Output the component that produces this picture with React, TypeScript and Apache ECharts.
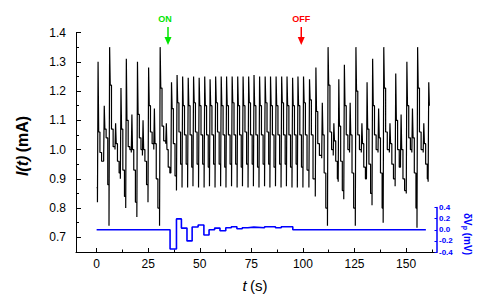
import React, { useEffect, useRef } from 'react';
import * as echarts from 'echarts';

// Axis ticks
const xTicks = [0, 25, 50, 75, 100, 125, 150];
const xMinorTicks = [12.5, 37.5, 62.5, 87.5, 112.5, 137.5, 162.5];
const yTicks = [0.7, 0.8, 0.9, 1.0, 1.1, 1.2, 1.3, 1.4];
const yMinorTicks = [0.75, 0.85, 0.95, 1.05, 1.15, 1.25, 1.35];
const rightTicks = [-0.4, -0.2, 0, 0.2, 0.4];

// Current I(t): one row per oscillation cycle
const startPoint = [0, 0.87];
const peakTimes = [
  0.7, 3.7, 6.3, 9.2, 11.8, 14.4, 17.1, 19.8, 22.5, 25.2, 28.0, 30.8, 33.8,
  36.3, 39.0, 41.7, 44.4, 47.0, 49.7, 52.4, 55.0, 57.7, 60.4, 63.0, 65.7, 68.4,
  71.0, 73.7, 76.3, 79.0, 81.7, 84.3, 87.0, 89.7, 92.3, 95.0, 97.6, 100.3,
  103.2, 106.3, 109.4, 112.2, 115.0, 117.4, 120.1, 122.9, 125.7, 128.6, 131.1,
  133.8, 136.7, 139.2, 142.2, 145.0, 147.6, 150.4, 153.1, 155.6, 158.6, 161.0,
];
const troughValues = [
  0.82, 0.97, 0.74, 1.0, 0.9, 0.8, 0.99, 0.77, 0.98, 0.82, 1.0, 0.74, 1.02,
  0.92, 0.86, 0.87, 0.87, 0.875, 0.87, 0.87, 0.875, 0.87, 0.875, 0.87, 0.875, 0.87,
  0.875, 0.87, 0.875, 0.87, 0.875, 0.87, 0.875, 0.87, 0.875, 0.87, 0.87, 0.87,
  0.87, 0.84, 0.97, 0.74, 0.98, 0.89, 0.83, 0.99, 0.74, 0.99, 0.9,
  0.81, 0.99, 0.75, 0.99, 0.875, 0.96, 0.85, 0.99, 0.733, 0.99, 0.89,
];
const peakValues = [
  1.3, 1.15, 1.35, 1.09, 1.21, 1.31, 1.12, 1.3, 1.1, 1.28, 1.14, 1.35, 1.09,
  1.23, 1.255, 1.25, 1.245, 1.25, 1.245, 1.25, 1.24, 1.25, 1.25, 1.25, 1.25, 1.25,
  1.25, 1.25, 1.255, 1.25, 1.25, 1.25, 1.25, 1.25, 1.25, 1.245, 1.25, 1.25,
  1.24, 1.28, 1.16, 1.35, 1.09, 1.24, 1.29, 1.16, 1.35, 1.09, 1.23,
  1.31, 1.14, 1.35, 1.09, 1.26, 1.12, 1.3, 1.14, 1.35, 1.09, 1.23,
];
const shoulderValues = [
  1.06, 1.07, 1.22, 1.02, 1.07, 1.1, 1.0, 1.12, 1.0, 1.15, 1.02, 1.21, 1.0,
  1.14, 1.16, 1.15, 1.15, 1.16, 1.15, 1.15, 1.15, 1.16, 1.15, 1.15, 1.16, 1.15,
  1.15, 1.16, 1.15, 1.15, 1.16, 1.15, 1.15, 1.16, 1.15, 1.15, 1.15, 1.16,
  1.17, 1.13, 1.05, 1.22, 1.03, 1.08, 1.15, 1.05, 1.2, 1.02, 1.07,
  1.15, 1.04, 1.21, 1.02, 1.1, 1.0, 1.15, 1.04, 1.21, 1.02, 1.15,
];
const midValues = [
  0.99, 1.04, 1.07, 0.96, 0.93, 1.01, 0.93, 1.04, 0.96, 1.06, 0.9, 1.08, 0.94,
  1.02, 1.06, 1.05, 1.05, 1.06, 1.05, 1.05, 1.05, 1.06, 1.05, 1.05, 1.05, 1.05,
  1.06, 1.05, 1.05, 1.05, 1.06, 1.05, 1.05, 1.05, 1.05, 1.05, 1.05, 1.05,
  1.05, 1.02, 0.92, 1.06, 0.96, 0.96, 1.05, 0.92, 1.05, 0.94, 0.95,
  1.05, 0.92, 1.06, 0.95, 1.0, 0.9, 1.04, 0.92, 1.06, 0.95, null,
];
const lateValues = [
  0.96, 0.88, 1.01, 0.92, 0.84, 1.0, 0.82, 1.0, 0.88, 1.02, 0.8, 1.03, 0.92,
  0.91, 0.95, 0.95, 0.94, 0.95, 0.95, 0.94, 0.95, 0.95, 0.94, 0.95, 0.95, 0.94,
  0.95, 0.95, 0.94, 0.95, 0.95, 0.94, 0.95, 0.95, 0.94, 0.95, 0.94, 0.93,
  0.9, 0.98, 0.8, 1.0, 0.9, 0.86, 1.0, 0.8, 1.0, 0.9, 0.85,
  1.0, 0.8, 1.0, 0.9, 0.94, 0.86, 1.0, 0.8, 1.0, 0.9, null,
];

// Control perturbation δVp (mV), held from each time to the next
const controlTimes = [0, 35.6, 38.7, 41.1, 43.8, 46.3, 49.2, 52.0, 54.5, 57.2, 59.8, 62.6, 65.3, 68.0, 70.6, 73.3, 76.2, 81.4, 86.7, 89.5, 95.1, 159.6];
const controlValues = [0, -0.345, 0.195, 0.03, -0.2, 0.05, 0.085, -0.095, 0.0, 0.03, -0.018, 0.036, 0.055, 0.018, 0.036, 0.048, 0.036, 0.055, 0.036, 0.055, 0, 0];

const ON_TIME = 34.6;
const OFF_TIME = 99.2;

const FONT = "'Liberation Sans', Arial, sans-serif";

function buildCurrent(): number[][] {
  const pts: number[][] = [startPoint];
  peakTimes.forEach((tp, i) => {
    pts.push([tp - 0.3, troughValues[i]]);
    pts.push([tp, peakValues[i]]);
    pts.push([tp + 0.3, shoulderValues[i]]);
    if (midValues[i] != null) pts.push([tp + 0.9, midValues[i] as number]);
    if (lateValues[i] != null) pts.push([tp + 1.7, lateValues[i] as number]);
  });
  return pts;
}

export default function App() {
  const ref = useRef<HTMLDivElement>(null);
  useEffect(() => {
    if (!ref.current) return;
    const chart = echarts.init(ref.current, undefined, { renderer: 'svg' });
    const currentData = buildCurrent();
    const controlData = controlTimes.map((t, i) => [t, controlValues[i]]);
    const fmt = (v: number) => (Math.abs(v) < 1e-9 ? '0.0' : v.toFixed(1));

    chart.setOption({
      animation: false,
      grid: [
        { left: 76, right: 61, top: 32.5, bottom: 52 },
        { left: 76, right: 61, top: 207.5, bottom: 52 },
      ],
      xAxis: [
        {
          type: 'value', gridIndex: 0, min: -10, max: 165, position: 'bottom',
          axisLine: { show: true, onZero: false, lineStyle: { color: '#000', width: 1 } },
          axisTick: { show: true, inside: true, length: 4, customValues: xTicks, lineStyle: { color: '#000' } },
          axisLabel: { customValues: xTicks, color: '#000', fontSize: 12, margin: 6, fontFamily: FONT },
          splitLine: { show: false },
        },
        {
          type: 'value', gridIndex: 0, min: -10, max: 165, position: 'bottom',
          axisLine: { show: false, onZero: false },
          axisTick: { show: true, inside: true, length: 2.5, customValues: xMinorTicks, lineStyle: { color: '#000' } },
          axisLabel: { show: false },
          splitLine: { show: false },
        },
        { type: 'value', gridIndex: 1, min: -10, max: 165, show: false, axisLine: { onZero: false } },
      ],
      yAxis: [
        {
          type: 'value', gridIndex: 0, min: 0.65, max: 1.4, position: 'left',
          axisLine: { show: true, onZero: false, lineStyle: { color: '#000', width: 1 } },
          axisTick: { show: true, inside: true, length: 5, customValues: yTicks, lineStyle: { color: '#000' } },
          axisLabel: { customValues: yTicks, formatter: fmt, color: '#000', fontSize: 12, margin: 10, fontFamily: FONT },
          splitLine: { show: false },
        },
        {
          type: 'value', gridIndex: 0, min: 0.65, max: 1.4, position: 'left',
          axisLine: { show: false, onZero: false },
          axisTick: { show: true, inside: true, length: 3, customValues: yMinorTicks, lineStyle: { color: '#000' } },
          axisLabel: { show: false },
          splitLine: { show: false },
        },
        {
          type: 'value', gridIndex: 1, min: -0.4, max: 0.4, position: 'right',
          axisLine: { show: true, onZero: false, lineStyle: { color: '#0000ff', width: 1.5 } },
          axisTick: { show: true, inside: true, length: 2.5, customValues: rightTicks, lineStyle: { color: '#0000ff' } },
          axisLabel: { customValues: rightTicks, formatter: fmt, color: '#0000ff', fontSize: 8, fontWeight: 'bold', margin: 2, fontFamily: FONT },
          splitLine: { show: false },
        },
      ],
      series: [
        {
          type: 'line', xAxisIndex: 0, yAxisIndex: 0, data: currentData, step: 'end',
          symbol: 'none', showSymbol: false, lineStyle: { color: '#000', width: 1.2 },
        },
        {
          type: 'line', xAxisIndex: 2, yAxisIndex: 2, data: controlData, step: 'end',
          symbol: 'none', showSymbol: false, lineStyle: { color: '#0000ff', width: 1.6 },
        },
      ],
    });

    const onX = chart.convertToPixel({ xAxisIndex: 0 }, ON_TIME) as number;
    const offX = chart.convertToPixel({ xAxisIndex: 0 }, OFF_TIME) as number;
    const arrow = (x: number, color: string, label: string, dx: number) => [
      { type: 'text', x: x + dx, y: 18.5, style: { text: label, fill: color, fontSize: 9, fontWeight: 'bold', fontFamily: FONT, align: 'center', verticalAlign: 'middle' } },
      { type: 'line', shape: { x1: x, y1: 27, x2: x, y2: 39 }, style: { stroke: color, lineWidth: 1.5 } },
      { type: 'polygon', shape: { points: [[x - 3.5, 37], [x + 3.5, 37], [x, 45]] }, style: { fill: color } },
    ];

    chart.setOption({
      graphic: [
        {
          type: 'text', x: 22, y: 146, rotation: Math.PI / 2,
          style: {
            text: '{i|I(t)} {n|(mA)}', align: 'center', verticalAlign: 'middle', fill: '#000',
            rich: {
              i: { fontSize: 16, fontWeight: 'bold', fontStyle: 'italic', fontFamily: FONT },
              n: { fontSize: 16, fontWeight: 'bold', fontFamily: FONT },
            },
          },
        },
        {
          type: 'text', x: 255, y: 285,
          style: {
            text: '{i|t} {n|(s)}', align: 'center', verticalAlign: 'middle', fill: '#000',
            rich: {
              i: { fontSize: 15, fontStyle: 'italic', fontFamily: FONT },
              n: { fontSize: 15, fontFamily: FONT },
            },
          },
        },
        {
          type: 'text', x: 467.5, y: 234, rotation: -Math.PI / 2,
          style: {
            text: '{a|δV}{s|p}{a| (mV)}', align: 'center', verticalAlign: 'middle', fill: '#0000ff',
            rich: {
              a: { fontSize: 10, fontWeight: 'bold', fontFamily: FONT, fill: '#0000ff', lineHeight: 12 },
              s: { fontSize: 7, fontWeight: 'bold', fontFamily: FONT, fill: '#0000ff', lineHeight: 12, verticalAlign: 'bottom', padding: [4, 0, 0, 0] },
            },
          },
        },
        ...arrow(onX, '#00e600', 'ON', -3),
        ...arrow(offX, '#ff0000', 'OFF', 0),
      ],
    });

    return () => chart.dispose();
  }, []);

  return (
    <div
      ref={ref}
      style={{ position: 'fixed', left: 0, top: 0, width: 498, height: 304, background: '#fff' }}
    />
  );
}
